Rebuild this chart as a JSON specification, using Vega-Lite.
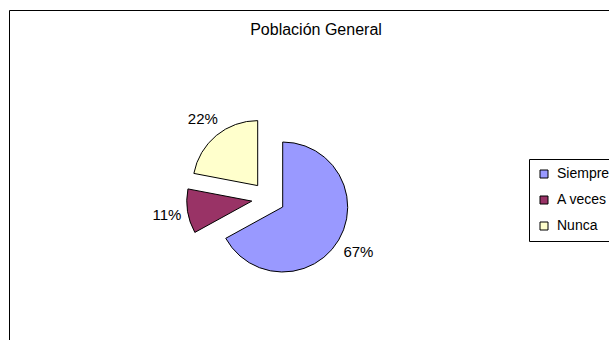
{
  "$schema": "https://vega.github.io/schema/vega-lite/v6.json",
  "width": 614,
  "height": 377,
  "autosize": {"type": "none"},
  "padding": {"left": 9, "top": 10, "right": 0, "bottom": 0},
  "background": "white",
  "view": {"stroke": "#000000", "strokeWidth": 1, "fill": "#ffffff"},
  "config": {
    "font": "Liberation Sans",
    "view": {"stroke": "#000000", "strokeWidth": 1}
  },
  "title": {
    "text": "Población General",
    "fontSize": 16,
    "fontWeight": "normal",
    "font": "Liberation Sans",
    "color": "#000000",
    "anchor": "middle",
    "frame": "group",
    "baseline": "alphabetic",
    "offset": 0,
    "dy": 41
  },
  "data": {
    "values": [
      {"categoria": "Siempre", "valor": 0.67, "orden": 1},
      {"categoria": "A veces", "valor": 0.11, "orden": 2},
      {"categoria": "Nunca", "valor": 0.22, "orden": 3}
    ]
  },
  "encoding": {
    "theta": {"field": "valor", "type": "quantitative", "stack": true},
    "order": {"field": "orden", "type": "quantitative"},
    "color": {
      "field": "categoria",
      "type": "nominal",
      "scale": {"domain": ["Siempre", "A veces", "Nunca"], "range": ["#9999FF", "#993366", "#FFFFCC"]},
      "legend": {
        "title": null,
        "orient": "none",
        "legendX": 520,
        "legendY": 149,
        "symbolType": "square",
        "symbolSize": 64,
        "symbolStrokeColor": "#000000",
        "symbolStrokeWidth": 1,
        "symbolOpacity": 1,
        "labelFontSize": 14,
        "labelFont": "Liberation Sans",
        "labelColor": "#000000",
        "labelOffset": 6,
        "rowPadding": 12,
        "padding": 8,
        "strokeColor": "#000000",
        "fillColor": "#ffffff"
      }
    }
  },
  "layer": [
    {
      "mark": {"type": "arc", "outerRadius": 65, "stroke": "#000000", "strokeWidth": 1, "xOffset": -33.3, "yOffset": 8.5},
      "encoding": {"opacity": {"condition": {"test": "datum.categoria === 'Siempre'", "value": 1}, "value": 0}}
    },
    {
      "mark": {"type": "arc", "outerRadius": 65, "stroke": "#000000", "strokeWidth": 1, "xOffset": -64.2, "yOffset": 2.6},
      "encoding": {"opacity": {"condition": {"test": "datum.categoria === 'A veces'", "value": 1}, "value": 0}}
    },
    {
      "mark": {"type": "arc", "outerRadius": 65, "stroke": "#000000", "strokeWidth": 1, "xOffset": -58.3, "yOffset": -12.9},
      "encoding": {"opacity": {"condition": {"test": "datum.categoria === 'Nunca'", "value": 1}, "value": 0}}
    },
    {
      "mark": {"type": "text", "radius": 88, "fontSize": 15, "font": "Liberation Sans", "xOffset": -33.3, "yOffset": 8.5},
      "encoding": {
        "color": {"value": "#000000"},
        "text": {"condition": {"test": "datum.categoria === 'Siempre'", "field": "valor", "type": "quantitative", "format": ".0%"}, "value": ""}
      }
    },
    {
      "mark": {"type": "text", "radius": 86, "fontSize": 15, "font": "Liberation Sans", "xOffset": -64.2, "yOffset": 2.6},
      "encoding": {
        "color": {"value": "#000000"},
        "text": {"condition": {"test": "datum.categoria === 'A veces'", "field": "valor", "type": "quantitative", "format": ".0%"}, "value": ""}
      }
    },
    {
      "mark": {"type": "text", "radius": 86, "fontSize": 15, "font": "Liberation Sans", "xOffset": -58.3, "yOffset": -12.9},
      "encoding": {
        "color": {"value": "#000000"},
        "text": {"condition": {"test": "datum.categoria === 'Nunca'", "field": "valor", "type": "quantitative", "format": ".0%"}, "value": ""}
      }
    }
  ]
}
